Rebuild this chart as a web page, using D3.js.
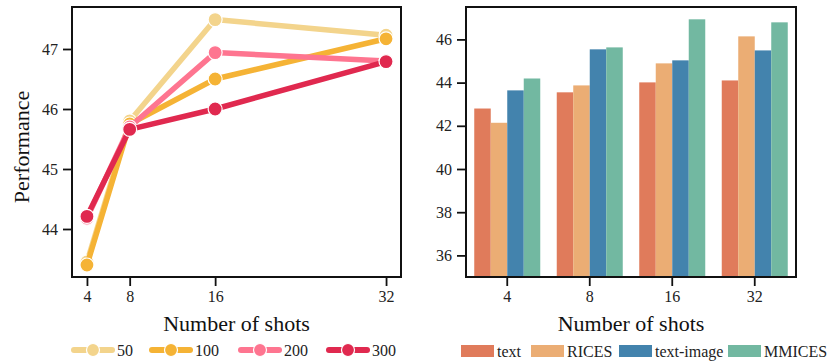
<!DOCTYPE html>
<html lang="en">
<head>
    <meta charset="UTF-8">
    <title>Performance vs number of shots</title>
    <script src="https://d3js.org/d3.v7.min.js"></script>
    <style>
        body {
            margin: 0;
            background-color: #fff;
        }
        svg {
            display: block;
            font-family: "Liberation Serif", "Times New Roman", serif;
        }
        .tick text {
            font-family: "Liberation Serif", "Times New Roman", serif;
            font-size: 16px;
            fill: #222;
        }
        .axis-label {
            font-size: 22px;
            fill: #111;
        }
        .legend-text {
            font-size: 16px;
            fill: #222;
        }
    </style>
</head>
<body>
    <div id="chart"></div>
    <script>
        // line chart data (left)
        const shots = [4, 8, 16, 32];
        const lineSeries = ["50", "100", "200", "300"];
        const perf50 = [43.45, 45.80, 47.49, 47.23];
        const perf100 = [43.40, 45.75, 46.50, 47.17];
        const perf200 = [44.18, 45.70, 46.94, 46.80];
        const perf300 = [44.21, 45.66, 46.00, 46.79];
        const leftYTicks = [44, 45, 46, 47];

        // bar chart data (right)
        const methods = ["text", "RICES", "text-image", "MMICES"];
        const textVals = [42.80, 43.55, 44.01, 44.10];
        const ricesVals = [42.14, 43.87, 44.89, 46.14];
        const textImageVals = [43.64, 45.54, 45.03, 45.49];
        const mmicesVals = [44.19, 45.63, 46.93, 46.79];
        const rightYTicks = [36, 38, 40, 42, 44, 46];

        const lineColors = ["#f3d48c", "#f5b335", "#fe7590", "#e0294f"];
        const barColors = ["#e07b5b", "#ebad74", "#4383ad", "#72b8a1"];

        const W = 831, H = 362;
        const plotTop = 7, plotBottom = 277;
        const leftBox = { x0: 72, x1: 401 };
        const rightBox = { x0: 466, x1: 796 };

        const svg = d3.select("#chart")
            .append("svg")
            .attr("width", W)
            .attr("height", H);

        // ---------- left panel ----------
        const lineData = [perf50, perf100, perf200, perf300];

        const x = d3.scaleLinear()
            .domain([2.6, 33.4])
            .range([leftBox.x0, leftBox.x1]);

        const y = d3.scaleLinear()
            .domain([43.2, 47.7])
            .range([plotBottom, plotTop]);

        const gL = svg.append("g");

        gL.append("g")
            .attr("transform", `translate(0, ${plotBottom})`)
            .call(d3.axisBottom(x).tickValues(shots).tickSize(9).tickPadding(5).tickFormat(d3.format("d")))
            .call(g => g.select(".domain").remove())
            .call(g => g.selectAll(".tick line").attr("stroke", "#111").attr("stroke-width", 1.8));

        gL.append("g")
            .attr("transform", `translate(${leftBox.x0}, 0)`)
            .call(d3.axisLeft(y).tickValues(leftYTicks).tickSize(9).tickPadding(5).tickFormat(d3.format("d")))
            .call(g => g.select(".domain").remove())
            .call(g => g.selectAll(".tick line").attr("stroke", "#111").attr("stroke-width", 1.8));

        const line = d3.line()
            .x((d, i) => x(shots[i]))
            .y(d => y(d));

        lineData.forEach((vals, k) => {
            gL.append("path")
                .datum(vals)
                .attr("d", line)
                .attr("fill", "none")
                .attr("stroke", lineColors[k])
                .attr("stroke-width", 5.5)
                .attr("stroke-linejoin", "round");

            gL.selectAll(`.dot-${k}`)
                .data(vals)
                .enter()
                .append("circle")
                .attr("class", `dot-${k}`)
                .attr("cx", (d, i) => x(shots[i]))
                .attr("cy", d => y(d))
                .attr("r", 7)
                .attr("fill", lineColors[k])
                .attr("stroke", "#fff")
                .attr("stroke-width", 1.2);
        });

        gL.append("rect")
            .attr("x", leftBox.x0)
            .attr("y", plotTop)
            .attr("width", leftBox.x1 - leftBox.x0)
            .attr("height", plotBottom - plotTop)
            .attr("fill", "none")
            .attr("stroke", "#111")
            .attr("stroke-width", 2);

        gL.append("text")
            .attr("class", "axis-label")
            .attr("x", (leftBox.x0 + leftBox.x1) / 2)
            .attr("y", 331)
            .attr("text-anchor", "middle")
            .text("Number of shots");

        gL.append("text")
            .attr("class", "axis-label")
            .attr("transform", "rotate(-90)")
            .attr("x", -147)
            .attr("y", 29)
            .attr("text-anchor", "middle")
            .text("Performance");

        // left legend
        const legL = gL.append("g").attr("transform", "translate(0, 350)");
        const legLX = [74, 152, 241, 329];
        lineSeries.forEach((s, k) => {
            const lx = legLX[k];
            legL.append("line")
                .attr("x1", lx).attr("x2", lx + 38)
                .attr("y1", 0).attr("y2", 0)
                .attr("stroke", lineColors[k])
                .attr("stroke-width", 6)
                .attr("stroke-linecap", "round");
            legL.append("circle")
                .attr("cx", lx + 19).attr("cy", 0)
                .attr("r", 6.5)
                .attr("fill", lineColors[k])
                .attr("stroke", "#fff")
                .attr("stroke-width", 1.2);
            legL.append("text")
                .attr("class", "legend-text")
                .attr("x", lx + 43)
                .attr("y", 5.5)
                .text(s);
        });

        // ---------- right panel ----------
        const barData = [textVals, ricesVals, textImageVals, mmicesVals];

        const xb = d3.scaleBand()
            .domain(shots)
            .range([rightBox.x0, rightBox.x1])
            .paddingInner(0.2)
            .paddingOuter(0.1);

        const xm = d3.scaleBand()
            .domain(methods)
            .range([0, xb.bandwidth()]);

        const yb = d3.scaleLinear()
            .domain([35, 47.5])
            .range([plotBottom, plotTop]);

        const gR = svg.append("g");

        gR.append("g")
            .attr("transform", `translate(0, ${plotBottom})`)
            .call(d3.axisBottom(xb).tickSize(9).tickPadding(5))
            .call(g => g.select(".domain").remove())
            .call(g => g.selectAll(".tick line").attr("stroke", "#111").attr("stroke-width", 1.8));

        gR.append("g")
            .attr("transform", `translate(${rightBox.x0}, 0)`)
            .call(d3.axisLeft(yb).tickValues(rightYTicks).tickSize(9).tickPadding(5))
            .call(g => g.select(".domain").remove())
            .call(g => g.selectAll(".tick line").attr("stroke", "#111").attr("stroke-width", 1.8));

        methods.forEach((m, k) => {
            gR.selectAll(`.bar-${k}`)
                .data(barData[k])
                .enter()
                .append("rect")
                .attr("class", `bar-${k}`)
                .attr("x", (d, i) => xb(shots[i]) + xm(m))
                .attr("width", xm.bandwidth())
                .attr("y", d => yb(d))
                .attr("height", d => yb(35) - yb(d))
                .attr("fill", barColors[k]);
        });

        gR.append("rect")
            .attr("x", rightBox.x0)
            .attr("y", plotTop)
            .attr("width", rightBox.x1 - rightBox.x0)
            .attr("height", plotBottom - plotTop)
            .attr("fill", "none")
            .attr("stroke", "#111")
            .attr("stroke-width", 2);

        gR.append("text")
            .attr("class", "axis-label")
            .attr("x", (rightBox.x0 + rightBox.x1) / 2)
            .attr("y", 331)
            .attr("text-anchor", "middle")
            .text("Number of shots");

        // right legend
        const legR = gR.append("g").attr("transform", "translate(0, 345)");
        const legRX = [461, 531, 619, 728];
        methods.forEach((m, k) => {
            legR.append("rect")
                .attr("x", legRX[k])
                .attr("y", 0)
                .attr("width", 33)
                .attr("height", 12)
                .attr("fill", barColors[k]);
            legR.append("text")
                .attr("class", "legend-text")
                .attr("x", legRX[k] + 36)
                .attr("y", 12)
                .text(m);
        });
    </script>
</body>
</html>
